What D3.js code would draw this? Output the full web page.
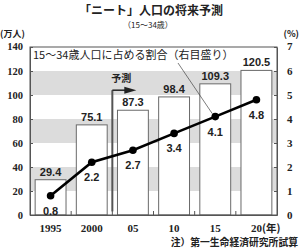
<!DOCTYPE html>
<html>
<head>
<meta charset="utf-8">
<script src="https://cdn.jsdelivr.net/npm/d3@7"></script>
<style>
    body { margin: 0; background: #fff; }
    svg { display: block; }
    .jp { font-family: "Noto Sans CJK JP", sans-serif; }
    .num { font-family: "Liberation Serif", serif; font-weight: bold; }
    .val { font-family: "Liberation Sans", Arial, sans-serif; font-weight: bold; }
</style>
</head>
<body>
<svg id="chart" width="300" height="249"></svg>
<script>
(function () {

    let years = ["1995", "2000", "05", "10", "15", "20"];
    let neet = [29.4, 75.1, 87.3, 98.4, 109.3, 120.5];
    let share = [0.8, 2.2, 2.7, 3.4, 4.1, 4.8];
    let leftTicks = [0, 20, 40, 60, 80, 100, 120, 140];
    let rightTicks = [0, 1, 2, 3, 4, 5, 6, 7];
    let bands = [[20, 40], [60, 80], [100, 120]];

    let margin = { top: 47, right: 23, bottom: 34, left: 30 };

    let canvas = d3.select("#chart");
    let width = +canvas.attr("width");
    let height = +canvas.attr("height");
    let w = width - margin.left - margin.right;
    let h = height - margin.top - margin.bottom;

    let data = years.map((y, i) => ({ year: y, neet: neet[i], share: share[i] }));

    let xScale = d3.scaleBand()
        .domain(years)
        .range([0, w])
        .paddingInner(0.25)
        .paddingOuter(0.125);

    let yLeft = d3.scaleLinear().domain([0, 140]).range([h, 0]);
    let yRight = d3.scaleLinear().domain([0, 7]).range([h, 0]);

    let ink = "#222";

    // title
    canvas.append("text")
        .attr("class", "jp")
        .attr("x", 151).attr("y", 14.5)
        .attr("text-anchor", "middle")
        .attr("font-size", 12).attr("font-weight", "bold")
        .attr("fill", ink)
        .text("「ニート」人口の将来予測");
    canvas.append("text")
        .attr("class", "jp")
        .attr("x", 148).attr("y", 28)
        .attr("text-anchor", "middle")
        .attr("font-size", 8)
        .attr("fill", ink)
        .text("（15～34歳）");

    canvas.append("text").attr("class", "jp")
        .attr("x", 0).attr("y", 37)
        .attr("font-size", 9).attr("font-weight", "bold")
        .attr("fill", ink)
        .text("(万人)");
    canvas.append("text").attr("class", "jp")
        .attr("x", 299).attr("y", 37)
        .attr("text-anchor", "end")
        .attr("font-size", 9).attr("font-weight", "bold")
        .attr("fill", ink)
        .text("(%)");

    let g = canvas.append("g")
        .attr("transform", `translate(${margin.left}, ${margin.top})`);

    // grey bands
    g.selectAll("rect.band").data(bands).enter()
        .append("rect")
        .attr("class", "band")
        .attr("x", 0)
        .attr("width", w)
        .attr("y", d => yLeft(d[1]))
        .attr("height", d => yLeft(d[0]) - yLeft(d[1]))
        .attr("fill", "#dcdcdc");

    // bars
    g.selectAll("rect.bar").data(data).enter()
        .append("rect")
        .attr("class", "bar")
        .attr("x", d => xScale(d.year))
        .attr("y", d => yLeft(d.neet))
        .attr("width", xScale.bandwidth())
        .attr("height", d => yLeft(0) - yLeft(d.neet))
        .attr("fill", "#fff")
        .attr("stroke", "#6a6a6a")
        .attr("stroke-width", 1);

    g.selectAll("text.barlabel").data(data).enter()
        .append("text")
        .attr("class", "val")
        .attr("x", d => xScale(d.year) + xScale.bandwidth() / 2)
        .attr("y", d => yLeft(d.neet) - 4)
        .attr("text-anchor", "middle")
        .attr("font-size", 11)
        .attr("fill", ink)
        .text(d => d.neet.toFixed(1));

    // frame
    g.append("rect")
        .attr("width", w).attr("height", h)
        .attr("fill", "none")
        .attr("stroke", "#555")
        .attr("stroke-width", 1);

    // forecast marker
    let step = xScale.step();
    let xf = xScale("05") - step * xScale.paddingInner() / 2;
    let yf = yLeft(104);
    g.append("line")
        .attr("x1", xf).attr("x2", xf)
        .attr("y1", yf).attr("y2", yLeft(3))
        .attr("stroke", "#555").attr("stroke-width", 2);
    g.append("line")
        .attr("x1", xf).attr("x2", xf + 16)
        .attr("y1", yf).attr("y2", yf)
        .attr("stroke", "#222").attr("stroke-width", 1.5);
    g.append("path")
        .attr("d", `M${xf + 12},${yf - 3.5} L${xf + 24},${yf} L${xf + 12},${yf + 3.5} Z`)
        .attr("fill", "#222");
    g.append("text")
        .attr("class", "jp")
        .attr("x", xf + 9).attr("y", yf - 8)
        .attr("text-anchor", "middle")
        .attr("font-size", 10).attr("font-weight", "bold")
        .attr("fill", ink)
        .text("予測");

    // legend text + leader
    g.append("text")
        .attr("class", "jp")
        .attr("x", 3).attr("y", 12)
        .attr("font-size", 11)
        .attr("fill", ink)
        .text("15～34歳人口に占める割合（右目盛り）");
    let px = xScale("15") + xScale.bandwidth() / 2;
    let py = yRight(4.1);
    g.append("line")
        .attr("x1", 148).attr("y1", 16)
        .attr("x2", px - 3).attr("y2", py - 3)
        .attr("stroke", "#444").attr("stroke-width", 0.7);

    // share line
    let line = d3.line()
        .x(d => xScale(d.year) + xScale.bandwidth() / 2)
        .y(d => yRight(d.share));
    g.append("path")
        .datum(data)
        .attr("d", line)
        .attr("fill", "none")
        .attr("stroke", "#000")
        .attr("stroke-width", 2.6);
    g.selectAll("circle").data(data).enter()
        .append("circle")
        .attr("cx", d => xScale(d.year) + xScale.bandwidth() / 2)
        .attr("cy", d => yRight(d.share))
        .attr("r", 3.8)
        .attr("fill", "#000");
    g.selectAll("text.sharelabel").data(data).enter()
        .append("text")
        .attr("class", "val")
        .attr("x", d => xScale(d.year) + xScale.bandwidth() / 2)
        .attr("y", d => yRight(d.share) + 19)
        .attr("text-anchor", "middle")
        .attr("font-size", 11)
        .attr("fill", ink)
        .text(d => d.share.toFixed(1));

    // axes
    let yAxisL = d3.axisLeft(yLeft).tickValues(leftTicks).tickSizeInner(-3).tickSizeOuter(0).tickPadding(7);
    let gl = g.append("g").call(yAxisL);
    let yAxisR = d3.axisRight(yRight).tickValues(rightTicks).tickFormat(d3.format("d"))
        .tickSizeInner(-3).tickSizeOuter(0).tickPadding(10);
    let gr = g.append("g").attr("transform", `translate(${w}, 0)`).call(yAxisR);
    let xAxis = d3.axisBottom(xScale).tickSize(0).tickPadding(9);
    let gx = g.append("g").attr("transform", `translate(0, ${h})`).call(xAxis);

    [gl, gr, gx].forEach(a => {
        a.select(".domain").attr("stroke", "#555");
        a.selectAll(".tick line").attr("stroke", "#555");
        a.selectAll("text")
            .attr("class", "num")
            .attr("font-size", 11)
            .attr("fill", ink);
    });
    gl.selectAll(".tick text").attr("font-size", 10.5);
    gl.selectAll(".tick").filter(d => d === 140).select("text").attr("dy", "0.2em");
    gr.selectAll(".tick").filter(d => d === 7).select("text").attr("dy", "0.2em");

    // small ticks on the baseline between categories
    g.selectAll("line.sep").data(years.slice(1)).enter()
        .append("line")
        .attr("class", "sep")
        .attr("x1", d => xScale(d) - step * xScale.paddingInner() / 2)
        .attr("x2", d => xScale(d) - step * xScale.paddingInner() / 2)
        .attr("y1", h).attr("y2", h - 4)
        .attr("stroke", "#555");

    // unit after last year
    gx.selectAll(".tick").filter(d => d === "20").select("text")
        .attr("text-anchor", "start")
        .attr("dx", "-0.5em")
        .append("tspan")
        .attr("class", "jp")
        .attr("font-size", 10.5)
        .text("(年)");

    canvas.append("text")
        .attr("class", "jp")
        .attr("x", 298).attr("y", 246)
        .attr("text-anchor", "end")
        .attr("font-size", 9.8).attr("font-weight", "bold")
        .attr("fill", ink)
        .text("注）第一生命経済研究所試算");

})();
</script>
</body>
</html>
